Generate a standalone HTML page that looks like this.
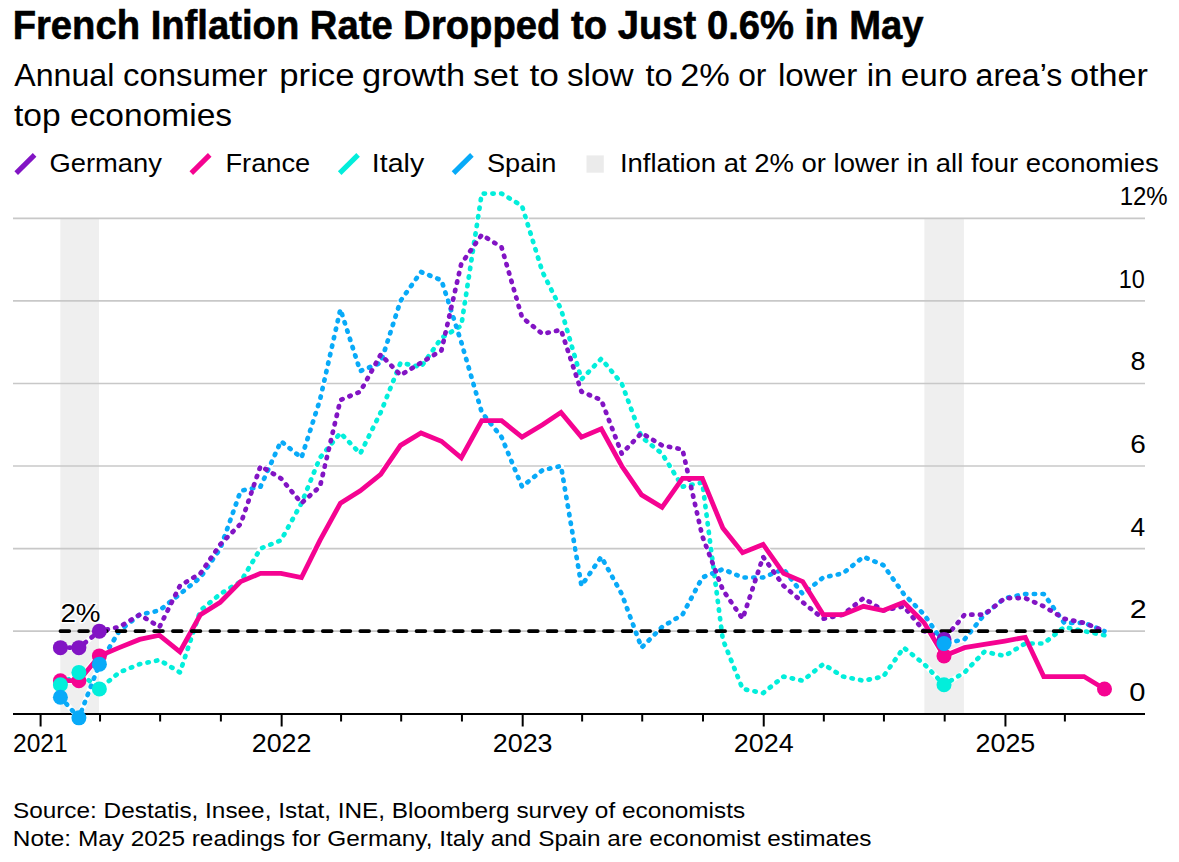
<!DOCTYPE html>
<html><head><meta charset="utf-8"><style>
html,body{margin:0;padding:0;background:#fff;}
body{width:1179px;height:862px;overflow:hidden;position:relative;}
svg{position:absolute;left:0;top:0;}
text{font-family:"Liberation Sans",sans-serif;fill:#000;}
.yl{font-size:25px;}
</style></head><body>
<svg width="1179" height="862" viewBox="0 0 1179 862">
<rect x="60.3" y="218" width="38.7" height="495.7" fill="#efefef"/><rect x="924.4" y="218" width="39.5" height="495.7" fill="#efefef"/><line x1="13" x2="1145" y1="631.14" y2="631.14" stroke="#c8c8c8" stroke-width="1.6"/><line x1="13" x2="1145" y1="548.58" y2="548.58" stroke="#c8c8c8" stroke-width="1.6"/><line x1="13" x2="1145" y1="466.02" y2="466.02" stroke="#c8c8c8" stroke-width="1.6"/><line x1="13" x2="1145" y1="383.46" y2="383.46" stroke="#c8c8c8" stroke-width="1.6"/><line x1="13" x2="1145" y1="300.90" y2="300.90" stroke="#c8c8c8" stroke-width="1.6"/><line x1="13" x2="1145" y1="218.34" y2="218.34" stroke="#c8c8c8" stroke-width="1.6"/><text x="1129.30" y="701.0" font-size="26" textLength="16.21" lengthAdjust="spacingAndGlyphs">0</text><text x="1129.71" y="618.2" font-size="26" textLength="16.93" lengthAdjust="spacingAndGlyphs">2</text><text x="1130.48" y="535.9" font-size="26" textLength="14.71" lengthAdjust="spacingAndGlyphs">4</text><text x="1130.35" y="452.9" font-size="26" textLength="15.56" lengthAdjust="spacingAndGlyphs">6</text><text x="1130.46" y="369.9" font-size="26" textLength="15.01" lengthAdjust="spacingAndGlyphs">8</text><text x="1118.68" y="287.8" font-size="26" textLength="26.06" lengthAdjust="spacingAndGlyphs">10</text><text x="1119.65" y="204.8" font-size="26" textLength="48.02" lengthAdjust="spacingAndGlyphs">12%</text><text x="60.42" y="621.7" font-size="26" textLength="40.10" lengthAdjust="spacingAndGlyphs" stroke="#fff" stroke-width="3" stroke-linejoin="round" paint-order="stroke">2%</text><line x1="13" x2="1145" y1="714" y2="714" stroke="#000" stroke-width="2"/><line x1="40.60" x2="40.60" y1="714" y2="726.5" stroke="#000" stroke-width="2"/><line x1="100.04" x2="100.04" y1="714" y2="721.5" stroke="#000" stroke-width="2"/><line x1="160.13" x2="160.13" y1="714" y2="721.5" stroke="#000" stroke-width="2"/><line x1="220.89" x2="220.89" y1="714" y2="721.5" stroke="#000" stroke-width="2"/><text x="13.06" y="752" font-size="26" textLength="54.54" lengthAdjust="spacingAndGlyphs">2021</text><line x1="281.65" x2="281.65" y1="714" y2="726.5" stroke="#000" stroke-width="2"/><line x1="341.08" x2="341.08" y1="714" y2="721.5" stroke="#000" stroke-width="2"/><line x1="401.18" x2="401.18" y1="714" y2="721.5" stroke="#000" stroke-width="2"/><line x1="461.94" x2="461.94" y1="714" y2="721.5" stroke="#000" stroke-width="2"/><text x="251.75" y="752" font-size="26" textLength="59.75" lengthAdjust="spacingAndGlyphs">2022</text><line x1="522.69" x2="522.69" y1="714" y2="726.5" stroke="#000" stroke-width="2"/><line x1="582.13" x2="582.13" y1="714" y2="721.5" stroke="#000" stroke-width="2"/><line x1="642.22" x2="642.22" y1="714" y2="721.5" stroke="#000" stroke-width="2"/><line x1="702.98" x2="702.98" y1="714" y2="721.5" stroke="#000" stroke-width="2"/><text x="492.79" y="752" font-size="26" textLength="59.75" lengthAdjust="spacingAndGlyphs">2023</text><line x1="763.74" x2="763.74" y1="714" y2="726.5" stroke="#000" stroke-width="2"/><line x1="823.83" x2="823.83" y1="714" y2="721.5" stroke="#000" stroke-width="2"/><line x1="883.93" x2="883.93" y1="714" y2="721.5" stroke="#000" stroke-width="2"/><line x1="944.69" x2="944.69" y1="714" y2="721.5" stroke="#000" stroke-width="2"/><text x="733.84" y="752" font-size="26" textLength="59.75" lengthAdjust="spacingAndGlyphs">2024</text><line x1="1005.44" x2="1005.44" y1="714" y2="726.5" stroke="#000" stroke-width="2"/><line x1="1064.88" x2="1064.88" y1="714" y2="721.5" stroke="#000" stroke-width="2"/><text x="975.54" y="752" font-size="26" textLength="59.75" lengthAdjust="spacingAndGlyphs">2025</text><path d="M60.41,684.80 L78.90,672.42 L99.38,688.93 L119.19,672.42 L139.66,664.16 L159.47,660.04 L179.94,672.42 L200.42,610.50 L220.23,593.99 L240.70,581.60 L260.51,548.58 L280.99,540.32 L301.46,503.17 L319.95,457.76 L340.42,433.00 L360.23,453.64 L380.71,412.36 L400.52,362.82 L420.99,366.95 L441.46,338.05 L461.27,325.67 L481.75,193.57 L501.56,193.57 L522.03,205.96 L542.50,272.00 L561.00,309.16 L581.47,379.33 L601.28,358.69 L621.75,383.46 L641.56,437.12 L662.04,453.64 L682.51,486.66 L702.32,482.53 L722.79,639.40 L742.61,688.93 L763.08,693.06 L783.55,676.55 L802.70,680.68 L823.17,664.16 L842.99,676.55 L863.46,680.68 L883.27,676.55 L903.74,647.65 L924.22,664.16 L944.03,684.80 L964.50,672.42 L984.31,651.78 L1004.78,655.91 L1025.26,643.52 L1043.75,643.52 L1064.22,627.01 L1084.03,631.14 L1104.50,635.27" fill="none" stroke="#fff" stroke-width="5.6" stroke-linecap="round" stroke-linejoin="round"/><path d="M60.41,697.19 L78.90,717.83 L99.38,664.16 L119.19,631.14 L139.66,614.63 L159.47,610.50 L179.94,593.99 L200.42,577.48 L220.23,548.58 L240.70,490.79 L260.51,486.66 L280.99,441.25 L301.46,457.76 L319.95,399.97 L340.42,309.16 L360.23,371.08 L380.71,362.82 L400.52,300.90 L420.99,272.00 L441.46,280.26 L461.27,342.18 L481.75,412.36 L501.56,437.12 L522.03,486.66 L542.50,470.15 L561.00,466.02 L581.47,585.73 L601.28,556.84 L621.75,593.99 L641.56,647.65 L662.04,627.01 L682.51,614.63 L702.32,577.48 L722.79,569.22 L742.61,577.48 L763.08,577.48 L783.55,569.22 L802.70,593.99 L823.17,577.48 L842.99,573.35 L863.46,556.84 L883.27,565.09 L903.74,593.99 L924.22,614.63 L944.03,643.52 L964.50,639.40 L984.31,614.63 L1004.78,598.12 L1025.26,593.99 L1043.75,593.99 L1064.22,622.88 L1084.03,622.88 L1104.50,631.14" fill="none" stroke="#fff" stroke-width="5.6" stroke-linecap="round" stroke-linejoin="round"/><path d="M60.41,647.65 L78.90,647.65 L99.38,631.14 L119.19,627.01 L139.66,614.63 L159.47,627.01 L179.94,585.73 L200.42,573.35 L220.23,544.45 L240.70,523.81 L260.51,466.02 L280.99,478.40 L301.46,503.17 L319.95,486.66 L340.42,399.97 L360.23,391.72 L380.71,354.56 L400.52,375.20 L420.99,362.82 L441.46,350.44 L461.27,263.75 L481.75,234.85 L501.56,247.24 L522.03,317.41 L542.50,333.92 L561.00,329.80 L581.47,391.72 L601.28,399.97 L621.75,453.64 L641.56,433.00 L662.04,445.38 L682.51,449.51 L702.32,536.20 L722.79,589.86 L742.61,618.76 L763.08,556.84 L783.55,585.73 L802.70,602.24 L823.17,618.76 L842.99,614.63 L863.46,598.12 L883.27,610.50 L903.74,606.37 L924.22,631.14 L944.03,639.40 L964.50,614.63 L984.31,614.63 L1004.78,598.12 L1025.26,598.12 L1043.75,606.37 L1064.22,618.76 L1084.03,622.88 L1104.50,631.14" fill="none" stroke="#fff" stroke-width="5.6" stroke-linecap="round" stroke-linejoin="round"/><path d="M60.41,680.68 L78.90,680.68 L99.38,655.91 L119.19,647.65 L139.66,639.40 L159.47,635.27 L179.94,651.78 L200.42,614.63 L220.23,602.24 L240.70,581.60 L260.51,573.35 L280.99,573.35 L301.46,577.48 L319.95,540.32 L340.42,503.17 L360.23,490.79 L380.71,474.28 L400.52,445.38 L420.99,433.00 L441.46,441.25 L461.27,457.76 L481.75,420.61 L501.56,420.61 L522.03,437.12 L542.50,424.74 L561.00,412.36 L581.47,437.12 L601.28,428.87 L621.75,466.02 L641.56,494.92 L662.04,507.30 L682.51,478.40 L702.32,478.40 L722.79,527.94 L742.61,552.71 L763.08,544.45 L783.55,573.35 L802.70,581.60 L823.17,614.63 L842.99,614.63 L863.46,606.37 L883.27,610.50 L903.74,602.24 L924.22,622.88 L944.03,655.91 L964.50,647.65 L984.31,644.35 L1004.78,641.05 L1025.26,637.33 L1043.75,676.55 L1064.22,676.55 L1084.03,676.55 L1104.50,688.93" fill="none" stroke="#fff" stroke-width="6.8" stroke-linejoin="miter"/><path d="M60.41,684.80 L78.90,672.42 L99.38,688.93 L119.19,672.42 L139.66,664.16 L159.47,660.04 L179.94,672.42 L200.42,610.50 L220.23,593.99 L240.70,581.60 L260.51,548.58 L280.99,540.32 L301.46,503.17 L319.95,457.76 L340.42,433.00 L360.23,453.64 L380.71,412.36 L400.52,362.82 L420.99,366.95 L441.46,338.05 L461.27,325.67 L481.75,193.57 L501.56,193.57 L522.03,205.96 L542.50,272.00 L561.00,309.16 L581.47,379.33 L601.28,358.69 L621.75,383.46 L641.56,437.12 L662.04,453.64 L682.51,486.66 L702.32,482.53 L722.79,639.40 L742.61,688.93 L763.08,693.06 L783.55,676.55 L802.70,680.68 L823.17,664.16 L842.99,676.55 L863.46,680.68 L883.27,676.55 L903.74,647.65 L924.22,664.16 L944.03,684.80 L964.50,672.42 L984.31,651.78 L1004.78,655.91 L1025.26,643.52 L1043.75,643.52 L1064.22,627.01 L1084.03,631.14 L1104.50,635.27" fill="none" stroke="#02eedb" stroke-width="4.7" stroke-linecap="round" stroke-linejoin="round" stroke-dasharray="1.3 7.4"/><path d="M60.41,697.19 L78.90,717.83 L99.38,664.16 L119.19,631.14 L139.66,614.63 L159.47,610.50 L179.94,593.99 L200.42,577.48 L220.23,548.58 L240.70,490.79 L260.51,486.66 L280.99,441.25 L301.46,457.76 L319.95,399.97 L340.42,309.16 L360.23,371.08 L380.71,362.82 L400.52,300.90 L420.99,272.00 L441.46,280.26 L461.27,342.18 L481.75,412.36 L501.56,437.12 L522.03,486.66 L542.50,470.15 L561.00,466.02 L581.47,585.73 L601.28,556.84 L621.75,593.99 L641.56,647.65 L662.04,627.01 L682.51,614.63 L702.32,577.48 L722.79,569.22 L742.61,577.48 L763.08,577.48 L783.55,569.22 L802.70,593.99 L823.17,577.48 L842.99,573.35 L863.46,556.84 L883.27,565.09 L903.74,593.99 L924.22,614.63 L944.03,643.52 L964.50,639.40 L984.31,614.63 L1004.78,598.12 L1025.26,593.99 L1043.75,593.99 L1064.22,622.88 L1084.03,622.88 L1104.50,631.14" fill="none" stroke="#08aaf8" stroke-width="4.7" stroke-linecap="round" stroke-linejoin="round" stroke-dasharray="1.3 7.4"/><path d="M60.41,647.65 L78.90,647.65 L99.38,631.14 L119.19,627.01 L139.66,614.63 L159.47,627.01 L179.94,585.73 L200.42,573.35 L220.23,544.45 L240.70,523.81 L260.51,466.02 L280.99,478.40 L301.46,503.17 L319.95,486.66 L340.42,399.97 L360.23,391.72 L380.71,354.56 L400.52,375.20 L420.99,362.82 L441.46,350.44 L461.27,263.75 L481.75,234.85 L501.56,247.24 L522.03,317.41 L542.50,333.92 L561.00,329.80 L581.47,391.72 L601.28,399.97 L621.75,453.64 L641.56,433.00 L662.04,445.38 L682.51,449.51 L702.32,536.20 L722.79,589.86 L742.61,618.76 L763.08,556.84 L783.55,585.73 L802.70,602.24 L823.17,618.76 L842.99,614.63 L863.46,598.12 L883.27,610.50 L903.74,606.37 L924.22,631.14 L944.03,639.40 L964.50,614.63 L984.31,614.63 L1004.78,598.12 L1025.26,598.12 L1043.75,606.37 L1064.22,618.76 L1084.03,622.88 L1104.50,631.14" fill="none" stroke="#8214c4" stroke-width="4.7" stroke-linecap="round" stroke-linejoin="round" stroke-dasharray="1.3 7.4"/><path d="M60.41,680.68 L78.90,680.68 L99.38,655.91 L119.19,647.65 L139.66,639.40 L159.47,635.27 L179.94,651.78 L200.42,614.63 L220.23,602.24 L240.70,581.60 L260.51,573.35 L280.99,573.35 L301.46,577.48 L319.95,540.32 L340.42,503.17 L360.23,490.79 L380.71,474.28 L400.52,445.38 L420.99,433.00 L441.46,441.25 L461.27,457.76 L481.75,420.61 L501.56,420.61 L522.03,437.12 L542.50,424.74 L561.00,412.36 L581.47,437.12 L601.28,428.87 L621.75,466.02 L641.56,494.92 L662.04,507.30 L682.51,478.40 L702.32,478.40 L722.79,527.94 L742.61,552.71 L763.08,544.45 L783.55,573.35 L802.70,581.60 L823.17,614.63 L842.99,614.63 L863.46,606.37 L883.27,610.50 L903.74,602.24 L924.22,622.88 L944.03,655.91 L964.50,647.65 L984.31,644.35 L1004.78,641.05 L1025.26,637.33 L1043.75,676.55 L1064.22,676.55 L1084.03,676.55 L1104.50,688.93" fill="none" stroke="#f50391" stroke-width="4.8" stroke-linejoin="miter"/><line x1="60.4" x2="1103" y1="631.14" y2="631.14" stroke="#000" stroke-width="3.6" stroke-linecap="round" stroke-dasharray="8.9 9.84"/><circle cx="60.41" cy="647.65" r="7.5" fill="#8214c4"/><circle cx="78.90" cy="647.65" r="7.5" fill="#8214c4"/><circle cx="99.38" cy="631.14" r="7.5" fill="#8214c4"/><circle cx="944.03" cy="639.40" r="7.5" fill="#8214c4"/><circle cx="60.41" cy="680.68" r="7.5" fill="#f50391"/><circle cx="78.90" cy="680.68" r="7.5" fill="#f50391"/><circle cx="99.38" cy="655.91" r="7.5" fill="#f50391"/><circle cx="944.03" cy="655.91" r="7.5" fill="#f50391"/><circle cx="1104.50" cy="688.93" r="7.5" fill="#f50391"/><circle cx="60.41" cy="684.80" r="7.5" fill="#02eedb"/><circle cx="78.90" cy="672.42" r="7.5" fill="#02eedb"/><circle cx="99.38" cy="688.93" r="7.5" fill="#02eedb"/><circle cx="944.03" cy="684.80" r="7.5" fill="#02eedb"/><circle cx="60.41" cy="697.19" r="7.5" fill="#08aaf8"/><circle cx="78.90" cy="717.83" r="7.5" fill="#08aaf8"/><circle cx="99.38" cy="664.16" r="7.5" fill="#08aaf8"/><circle cx="944.03" cy="643.52" r="7.5" fill="#08aaf8"/>
<line x1="16.2" y1="173.1" x2="34.599999999999994" y2="154.9" stroke="#8214c4" stroke-width="5.1"/><line x1="191.3" y1="173.1" x2="209.70000000000002" y2="154.9" stroke="#f50391" stroke-width="5.1"/><line x1="339.7" y1="173.1" x2="358.09999999999997" y2="154.9" stroke="#02eedb" stroke-width="5.1"/><line x1="453.5" y1="173.1" x2="471.9" y2="154.9" stroke="#08aaf8" stroke-width="5.1"/><rect x="586.5" y="155.4" width="17.3" height="17.3" fill="#ebebeb"/>
<text stroke="#000" stroke-width="0.6" x="12.63" y="39.2" font-size="40" font-weight="700" textLength="910.91" lengthAdjust="spacingAndGlyphs">French Inflation Rate Dropped to Just 0.6% in May</text><text transform="translate(14.25,85.7) scale(1.0203,1)" font-size="31.5">Annual</text><text transform="translate(122.96,85.7) scale(1.0445,1)" font-size="31.5">consumer</text><text transform="translate(279.30,85.7) scale(1.1015,1)" font-size="31.5">price</text><text transform="translate(361.91,85.7) scale(1.0913,1)" font-size="31.5">growth</text><text transform="translate(473.12,85.7) scale(1.0756,1)" font-size="31.5">set</text><text transform="translate(529.40,85.7) scale(1.1200,1)" font-size="31.5">to</text><text transform="translate(566.94,85.7) scale(1.0597,1)" font-size="31.5">slow</text><text transform="translate(645.50,85.7) scale(1.0360,1)" font-size="31.5">to</text><text transform="translate(680.22,85.7) scale(1.0905,1)" font-size="31.5">2%</text><text transform="translate(738.19,85.7) scale(1.0074,1)" font-size="31.5">or</text><text transform="translate(777.89,85.7) scale(1.0548,1)" font-size="31.5">lower</text><text transform="translate(866.70,85.7) scale(1.0524,1)" font-size="31.5">in</text><text transform="translate(900.84,85.7) scale(1.0574,1)" font-size="31.5">euro</text><text transform="translate(975.58,85.7) scale(1.0169,1)" font-size="31.5">area’s</text><text transform="translate(1070.01,85.7) scale(1.0857,1)" font-size="31.5">other</text><text x="13.98" y="125.6" font-size="31.5" font-weight="400" textLength="218.14" lengthAdjust="spacingAndGlyphs">top economies</text><text x="49.46" y="171.7" font-size="26.7" font-weight="400" textLength="112.40" lengthAdjust="spacingAndGlyphs">Germany</text><text x="225.46" y="171.7" font-size="26.7" font-weight="400" textLength="84.73" lengthAdjust="spacingAndGlyphs">France</text><text x="371.84" y="171.7" font-size="26.7" font-weight="400" textLength="52.32" lengthAdjust="spacingAndGlyphs">Italy</text><text x="486.98" y="171.7" font-size="26.7" font-weight="400" textLength="69.53" lengthAdjust="spacingAndGlyphs">Spain</text><text x="619.92" y="171.7" font-size="26.7" font-weight="400" textLength="538.75" lengthAdjust="spacingAndGlyphs">Inflation at 2% or lower in all four economies</text><text x="12.93" y="818.0" font-size="22.8" font-weight="400" textLength="732.17" lengthAdjust="spacingAndGlyphs">Source: Destatis, Insee, Istat, INE, Bloomberg survey of economists</text><text x="12.89" y="846.0" font-size="22.8" font-weight="400" textLength="858.67" lengthAdjust="spacingAndGlyphs">Note: May 2025 readings for Germany, Italy and Spain are economist estimates</text>
</svg>
</body></html>
